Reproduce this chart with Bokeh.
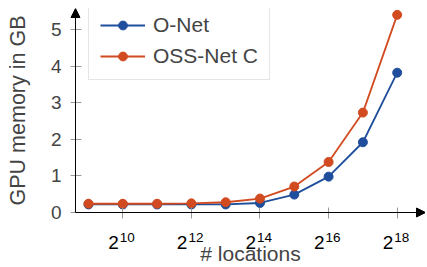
from bokeh.plotting import figure
from bokeh.models import Range1d, FixedTicker, Arrow, NormalHead, Legend, LegendItem, ColumnDataSource
from bokeh.core.properties import value
from bokeh.embed import file_html
from bokeh.resources import INLINE

# ---- data ----
x_exp = [9, 10, 11, 12, 13, 14, 15, 16, 17, 18]          # locations = 2**x_exp
onet = [0.22, 0.22, 0.22, 0.22, 0.22, 0.26, 0.49, 0.98, 1.92, 3.82]
oss_net_c = [0.24, 0.24, 0.24, 0.25, 0.28, 0.38, 0.71, 1.38, 2.73, 5.40]
x_tick_exps = [10, 12, 14, 16, 18]
x_tick_base = ["2", "2", "2", "2", "2"]
x_tick_sup = ["10", "12", "14", "16", "18"]
y_ticks = [0, 1, 2, 3, 4, 5]

FONT = "Liberation Sans"
BLUE = "#1f4f9c"
RED = "#d24a1f"

x_min, x_max = 8.621, 18.825
y_min, y_max = 0.0, 5.574

p = figure(width=425, height=266,
           x_range=Range1d(6.668, x_max), y_range=Range1d(-1.475, y_max),
           output_backend="svg", toolbar_location=None,
           min_border_left=8, min_border_top=8, min_border_right=0, min_border_bottom=0)
p.outline_line_color = None
p.grid.visible = False
p.background_fill_color = "white"

# axes at fixed positions
xa = p.xaxis[0]
xa.fixed_location = 0
xa.bounds = (x_min, x_max)
xa.ticker = FixedTicker(ticks=x_tick_exps)
xa.major_label_overrides = {t: "" for t in x_tick_exps}
xa.axis_line_color = None
xa.major_tick_in = 5
xa.major_tick_out = 6
xa.major_tick_line_color = "#9a9a9a"
xa.minor_tick_line_color = None
xa.axis_label = "# locations"
xa.axis_label_text_font = FONT
xa.axis_label_text_font_size = "21px"
xa.axis_label_text_font_style = "normal"
xa.axis_label_standoff = 23

ya = p.yaxis[0]
ya.fixed_location = x_min
ya.bounds = (y_min, y_max)
ya.ticker = FixedTicker(ticks=y_ticks)
ya.axis_line_color = None
ya.major_tick_in = 6
ya.major_tick_out = 5
ya.major_tick_line_color = "#9a9a9a"
ya.minor_tick_line_color = None
ya.major_label_text_font = FONT
ya.major_label_text_font_size = "19px"
ya.major_label_standoff = 9
ya.axis_label = "GPU memory in GB"
ya.axis_label_text_font = FONT
ya.axis_label_text_font_size = "21.5px"
ya.axis_label_text_font_style = "normal"
ya.axis_label_standoff = 18

# axis lines with arrow heads
p.add_layout(Arrow(x_start=x_min, y_start=0, x_end=x_max, y_end=0, line_width=1, line_color="black",
                   end=NormalHead(size=9, fill_color="black", line_color="black")))
p.add_layout(Arrow(x_start=x_min, y_start=0, x_end=x_min, y_end=y_max, line_width=1, line_color="black",
                   end=NormalHead(size=9, fill_color="black", line_color="black")))

# x tick labels 2^n
tsrc = ColumnDataSource(dict(x=x_tick_exps, y=[0] * len(x_tick_exps), base=x_tick_base, sup=x_tick_sup))
p.text(x="x", y="y", text="base", source=tsrc, text_font=value(FONT), text_font_size="19px",
       text_align="right", text_baseline="alphabetic", x_offset=-4, y_offset=30, text_color="black")
p.text(x="x", y="y", text="sup", source=tsrc, text_font=value(FONT), text_font_size="13.5px",
       text_align="left", text_baseline="alphabetic", x_offset=-3, y_offset=25, text_color="black")

# series
src = ColumnDataSource(dict(x=x_exp, onet=onet, oss=oss_net_c))
l1 = p.line("x", "onet", source=src, line_color=BLUE, line_width=1.8)
c1 = p.scatter("x", "onet", source=src, size=9, fill_color=BLUE, line_color=BLUE)
l2 = p.line("x", "oss", source=src, line_color=RED, line_width=1.8)
c2 = p.scatter("x", "oss", source=src, size=9, fill_color=RED, line_color=RED)

legend = Legend(items=[LegendItem(label="O-Net", renderers=[l1, c1]),
                       LegendItem(label="OSS-Net C", renderers=[l2, c2])],
                location=(80, 186), orientation="vertical")
legend.label_text_font = FONT
legend.label_text_font_size = "21px"
legend.label_height = 22
legend.glyph_height = 22
legend.glyph_width = 45
legend.label_standoff = 8
legend.padding = 11
legend.spacing = 7
legend.margin = 0
legend.border_line_color = "#cccccc"
legend.border_line_width = 1
legend.background_fill_alpha = 1
p.add_layout(legend, "center")

open("out.html", "w").write(file_html(p, INLINE))
